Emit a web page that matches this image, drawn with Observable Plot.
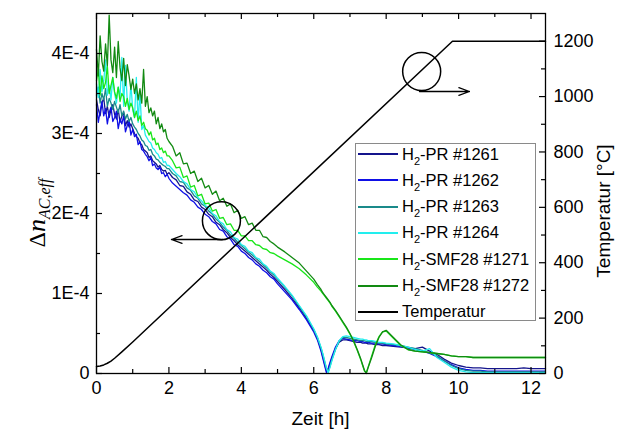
<!DOCTYPE html>
<html><head><meta charset="utf-8">
<script src="https://cdn.jsdelivr.net/npm/d3@7"></script>
<script src="https://cdn.jsdelivr.net/npm/@observablehq/plot@0.6"></script>
<style>
body{margin:0;background:#fff;font-family:"Liberation Sans",Arial,sans-serif;}
#wrap{position:relative;width:620px;height:430px;overflow:hidden;}
#legend{position:absolute;left:355px;top:143px;width:181px;height:178px;border:1px solid #8a8a8a;background:#fff;box-sizing:border-box;}
.row{position:absolute;left:0;height:22px;display:flex;align-items:center;font-size:16.5px;color:#000;white-space:nowrap;}
.row svg{margin-left:2px;margin-right:4px;}
.row sub{font-size:11px;vertical-align:-5px;line-height:0;}
</style></head><body><div id="wrap"></div>
<script>
// time grid [h]
const time = [0,0.05,0.1,0.15,0.2,0.25,0.3,0.35,0.4,0.45,0.5,0.55,0.6,0.65,0.7,0.75,0.8,0.85,0.9,0.95,1,1.05,1.1,1.15,1.2,1.25,1.3,1.35,1.4,1.45,1.5,1.55,1.6,1.65,1.7,1.75,1.8,1.85,1.9,1.95,2,
2.1,2.2,2.3,2.4,2.5,2.6,2.7,2.8,2.9,3,3.1,3.2,3.3,3.4,3.5,3.6,3.7,3.8,3.9,4,4.1,4.2,4.3,4.4,4.5,4.6,4.7,4.8,4.9,5,
5.2,5.4,5.6,5.8,
6,6.1,6.2,6.25,6.3,6.35,6.4,6.45,6.5,6.6,6.7,6.8,6.9,7,7.1,7.2,7.3,7.35,7.4,7.45,7.5,7.6,7.7,7.8,7.9,8,
8.2,8.4,8.6,8.8,9,9.2,9.4,9.6,9.8,10,10.2,10.4,10.6,10.8,11,11.2,11.4,11.6,11.8,12,12.2,12.4];

// Δn_AC,eff in units of 1E-4
const s1261 = [3.42,3.30,3.22,3.38,3.44,3.25,3.34,3.20,3.30,3.36,3.24,3.18,3.30,3.14,3.22,3.26,3.10,3.16,3.08,3.12,3.06,3.00,2.96,2.94,2.88,2.86,2.80,2.78,2.76,2.70,2.72,2.66,2.64,2.62,2.58,2.60,2.55,2.53,2.54,2.49,2.51,
2.45,2.42,2.35,2.34,2.27,2.24,2.17,2.15,2.08,2.05,1.99,1.96,1.89,1.86,1.80,1.76,1.70,1.66,1.61,1.57,1.53,1.49,1.45,1.41,1.37,1.33,1.29,1.24,1.20,1.15,
1.05,0.94,0.82,0.69,
0.54,0.44,0.30,0.21,0.12,0.03,0.05,0.12,0.19,0.31,0.39,0.42,0.42,0.41,0.40,0.39,0.39,0.38,0.38,0.38,0.37,0.37,0.36,0.36,0.35,0.35,
0.34,0.33,0.32,0.31,0.33,0.28,0.24,0.18,0.13,0.10,0.08,0.07,0.07,0.06,0.06,0.06,0.06,0.06,0.07,0.06,0.06,0.06];
const s1262 = [3.36,3.14,3.28,3.40,3.22,3.31,3.12,3.26,3.33,3.15,3.20,3.28,3.06,3.18,3.12,3.22,3.02,3.10,3.16,2.98,3.05,2.96,2.99,2.86,2.90,2.80,2.78,2.74,2.71,2.66,2.70,2.60,2.62,2.57,2.55,2.58,2.50,2.51,2.46,2.49,2.44,
2.38,2.34,2.30,2.26,2.23,2.17,2.14,2.08,2.05,1.99,1.96,1.90,1.87,1.80,1.78,1.71,1.68,1.61,1.59,1.53,1.50,1.45,1.42,1.37,1.34,1.29,1.26,1.21,1.18,1.12,
1.02,0.92,0.80,0.67,
0.52,0.42,0.28,0.19,0.10,0.01,0.07,0.14,0.21,0.33,0.41,0.44,0.43,0.42,0.41,0.41,0.40,0.40,0.39,0.39,0.39,0.38,0.38,0.37,0.37,0.36,
0.35,0.34,0.32,0.30,0.28,0.25,0.21,0.16,0.11,0.07,0.05,0.04,0.04,0.03,0.03,0.03,0.03,0.03,0.03,0.03,0.03,0.03];
const s1263 = [3.48,3.58,3.38,3.50,3.42,3.56,3.34,3.44,3.38,3.30,3.40,3.33,3.26,3.36,3.22,3.28,3.18,3.24,3.15,3.20,3.12,3.08,3.05,3.00,2.97,2.92,2.90,2.85,2.84,2.79,2.80,2.74,2.72,2.68,2.67,2.64,2.62,2.60,2.59,2.56,2.56,
2.50,2.47,2.40,2.39,2.32,2.29,2.22,2.19,2.12,2.09,2.03,1.99,1.93,1.89,1.83,1.79,1.73,1.69,1.64,1.60,1.56,1.52,1.48,1.44,1.40,1.36,1.32,1.27,1.23,1.18,
1.08,0.97,0.84,0.71,
0.55,0.45,0.32,0.24,0.15,0.06,0.02,0.09,0.17,0.30,0.40,0.45,0.45,0.44,0.43,0.42,0.41,0.41,0.41,0.40,0.40,0.40,0.39,0.38,0.38,0.37,
0.36,0.35,0.33,0.31,0.29,0.26,0.22,0.16,0.10,0.06,0.04,0.03,0.03,0.02,0.02,0.02,0.02,0.02,0.02,0.02,0.02,0.02];
const s1264 = [3.62,3.45,3.80,3.52,3.66,3.92,3.48,3.60,3.42,3.70,3.50,3.38,3.58,3.46,3.95,3.34,3.85,3.40,3.28,3.62,3.30,3.20,3.70,3.14,3.52,3.05,3.10,2.98,2.94,2.90,2.88,2.82,2.80,2.76,2.74,2.69,2.70,2.64,2.65,2.60,2.60,
2.55,2.50,2.46,2.40,2.37,2.30,2.27,2.20,2.16,2.10,2.07,2.00,1.97,1.90,1.87,1.80,1.77,1.70,1.68,1.61,1.59,1.53,1.51,1.45,1.43,1.37,1.34,1.28,1.25,1.19,
1.09,0.98,0.85,0.72,
0.56,0.46,0.33,0.25,0.16,0.07,0.01,0.08,0.16,0.30,0.41,0.46,0.47,0.46,0.45,0.44,0.43,0.43,0.42,0.42,0.41,0.41,0.40,0.39,0.39,0.38,
0.37,0.35,0.33,0.30,0.28,0.31,0.20,0.14,0.08,0.04,0.02,0.01,0.01,0.01,0.01,0.01,0.01,0.01,0.01,0.01,0.01,0.01];
const s1271 = [3.66,3.80,3.48,3.72,3.56,3.64,3.84,3.50,3.60,3.70,3.52,3.44,3.58,3.40,3.50,3.46,3.34,3.44,3.30,3.38,3.32,3.20,3.28,3.16,3.22,3.10,3.14,3.06,3.04,2.98,3.02,2.92,2.94,2.86,2.88,2.80,2.82,2.76,2.78,2.72,2.72,
2.66,2.57,2.58,2.45,2.47,2.33,2.35,2.22,2.24,2.12,2.13,2.03,2.05,1.94,1.95,1.86,1.87,1.79,1.79,1.72,1.72,1.66,1.66,1.61,1.60,1.56,1.55,1.51,1.50,1.47,
1.42,1.37,1.31,1.23,
1.14,1.08,1.03,1.00,0.97,0.94,0.91,0.88,0.84,0.78,0.71,0.64,0.57,0.49,0.40,0.29,0.17,0.10,0.03,0.01,0.08,0.22,0.36,0.46,0.52,0.53,
0.44,0.35,0.30,0.28,0.27,0.26,0.25,0.24,0.22,0.21,0.21,0.20,0.20,0.20,0.20,0.20,0.20,0.20,0.20,0.20,0.20,0.20];
const s1272 = [4.05,3.72,4.22,3.90,3.78,4.12,3.85,4.48,3.92,3.76,4.08,3.70,4.15,3.82,3.66,3.94,3.60,3.86,3.72,3.55,3.68,3.50,3.62,3.42,3.56,3.38,3.80,3.34,3.46,3.26,3.32,3.22,3.28,3.12,3.20,3.06,3.12,3.02,3.05,2.94,2.90,
2.84,2.72,2.76,2.62,2.63,2.50,2.53,2.40,2.44,2.32,2.35,2.24,2.28,2.16,2.19,2.09,2.12,2.01,2.04,1.94,1.96,1.86,1.88,1.79,1.79,1.71,1.70,1.65,1.62,1.58,
1.52,1.45,1.38,1.28,
1.18,1.11,1.05,1.01,0.98,0.95,0.92,0.89,0.85,0.79,0.72,0.65,0.58,0.50,0.41,0.30,0.18,0.11,0.04,0.00,0.07,0.20,0.34,0.45,0.52,0.54,
0.45,0.36,0.30,0.28,0.27,0.26,0.25,0.24,0.22,0.21,0.21,0.20,0.20,0.20,0.20,0.20,0.20,0.20,0.20,0.20,0.20,0.20];

// temperature [°C]
const tempTime = [0,0.1,0.2,0.3,0.4,0.5,0.7,1.0,9.83,12.4];
const tempVal  = [25,27,31,37,45,55,78,114,1200,1200];

const seriesNames  = ["H2-PR #1261","H2-PR #1262","H2-PR #1263","H2-PR #1264","H2-SMF28 #1271","H2-SMF28 #1272"];
const seriesColors = ["#14148c","#0f0fe6","#1a8a8a","#22eeee","#19e619","#128a12"];
const seriesValues = [s1261,s1262,s1263,s1264,s1271,s1272];
const tempName = "Temperatur";

// axis ticks
const xMajor = [0,2,4,6,8,10,12];
const xMinor = [1,3,5,7,9,11];
const yMajor = [0,1,2,3,4];
const yMinor = [0.5,1.5,2.5,3.5];
const tMajor = [0,200,400,600,800,1000,1200];
const tMinor = [100,300,500,700,900,1100];

// annotation markers (circle + arrow), in data units
const markerTime = [8.98, 3.45];
const markerVal  = [3.775, 1.91];
const arrowTime1 = [8.92, 3.48];
const arrowTime2 = [10.3, 2.07];
const arrowVal   = [3.525, 1.675];

const K = 4.5/1300; // °C -> left axis units
const W = 620, H = 430, mL = 96, mR = 75, mT = 13, mB = 57;
const iW = W - mL - mR, iH = H - mT - mB;

const rows = [];
seriesValues.forEach((arr, k) => {
  arr.forEach((v, i) => { if (time[i] !== undefined) rows.push({t: time[i], v, s: seriesNames[k]}); });
});
const tempRows = tempTime.map((t, i) => ({t, v: tempVal[i] * K}));
const circles = markerTime.map((t, i) => ({t, v: markerVal[i]}));
const arrows = arrowTime1.map((t, i) => ({t1: t, t2: arrowTime2[i], v: arrowVal[i]}));

const fmtL = d => d === 0 ? "0" : `${d}E-4`;

const chart = Plot.plot({
  width: W, height: H, marginLeft: mL, marginRight: mR, marginTop: mT, marginBottom: mB,
  style: {fontFamily: '"Liberation Sans", Arial, sans-serif', fontSize: "18px", color: "#000", background: "#fff", overflow: "visible"},
  x: {domain: [0, 12.4]},
  y: {domain: [0, 4.5]},
  color: {domain: seriesNames, range: seriesColors},
  marks: [
    Plot.line(rows, {x: "t", y: "v", z: "s", stroke: "s", strokeWidth: 1.3}),
    Plot.line(tempRows, {x: "t", y: "v", stroke: "#000", strokeWidth: 1.5}),
    Plot.dot(circles, {x: "t", y: "v", r: 19, stroke: "#000", strokeWidth: 1.5, fill: "none"}),
    Plot.arrow(arrows, {x1: "t1", x2: "t2", y1: "v", y2: "v", stroke: "#000", strokeWidth: 1.3, headAngle: 40, headLength: 13}),
    // inward ticks
    Plot.tickX(xMajor, {x: d => d, insetTop: iH - 6, stroke: "#000", strokeWidth: 1.2}),
    Plot.tickX(xMinor, {x: d => d, insetTop: iH - 4, stroke: "#000", strokeWidth: 1.2}),
    Plot.tickX(xMajor, {x: d => d, insetBottom: iH - 6, stroke: "#000", strokeWidth: 1.2}),
    Plot.tickX(xMinor, {x: d => d, insetBottom: iH - 4, stroke: "#000", strokeWidth: 1.2}),
    Plot.tickY(yMajor, {y: d => d, insetRight: iW - 6, stroke: "#000", strokeWidth: 1.2}),
    Plot.tickY(yMinor, {y: d => d, insetRight: iW - 4, stroke: "#000", strokeWidth: 1.2}),
    Plot.tickY(tMajor, {y: d => d * K, insetLeft: iW - 6, stroke: "#000", strokeWidth: 1.2}),
    Plot.tickY(tMinor, {y: d => d * K, insetLeft: iW - 4, stroke: "#000", strokeWidth: 1.2}),
    Plot.frame({stroke: "#000", strokeWidth: 1.3}),
    Plot.axisX({ticks: xMajor, tickSize: 0, tickPadding: 8, fontSize: 18, label: null}),
    Plot.axisY({anchor: "left", ticks: yMajor, tickFormat: fmtL, tickSize: 0, tickPadding: 7, fontSize: 18, label: null}),
    Plot.axisY({anchor: "right", ticks: tMajor.map(d => d * K), tickFormat: d => String(Math.round(d / K)), tickSize: 0, tickPadding: 8, fontSize: 18, label: null})
  ]
});

const wrap = document.getElementById("wrap");
wrap.appendChild(chart);

// axis titles
const svg = d3.select(chart);
svg.append("text").attr("x", (mL + W - mR) / 2).attr("y", 425).attr("text-anchor", "middle")
  .attr("font-size", 19).attr("fill", "#000").text("Zeit [h]");
svg.append("text").attr("transform", `translate(603,${(mT + H - mB) / 2 + 18}) rotate(-90)`)
  .attr("text-anchor", "middle").attr("dominant-baseline", "central")
  .attr("font-size", 19).attr("fill", "#000").text("Temperatur [°C]");
const lt = svg.append("text").attr("transform", `translate(45,${(mT + H - mB) / 2 + 20}) rotate(-90)`)
  .attr("text-anchor", "middle").attr("fill", "#000").attr("font-family", '"Liberation Serif", "Times New Roman", serif');
lt.append("tspan").attr("font-size", 24).text("Δ");
lt.append("tspan").attr("font-size", 26).attr("font-style", "italic").text("n");
lt.append("tspan").attr("font-size", 16).attr("font-style", "italic").attr("dy", 5).text("AC,eff");

// legend
const leg = document.createElement("div");
leg.id = "legend";
const legNames = [...seriesNames, tempName];
const legColors = [...seriesColors, "#000"];
legNames.forEach((name, i) => {
  const r = document.createElement("div");
  r.className = "row";
  r.style.top = (10 + i * 26.3 - 11) + "px";
  const label = name.startsWith("H2") ? "H<sub>2</sub>" + name.slice(2) : name;
  r.innerHTML = `<svg width="40" height="4"><line x1="0" x2="40" y1="2" y2="2" stroke="${legColors[i]}" stroke-width="2"/></svg><span>${label}</span>`;
  leg.appendChild(r);
});
wrap.appendChild(leg);
</script>
</body></html>
